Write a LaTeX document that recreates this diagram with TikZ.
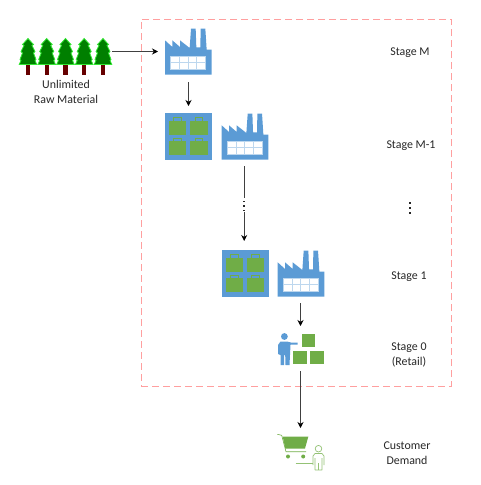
\documentclass[tikz,border=0pt]{standalone}
\usepackage{fontspec}
\setmainfont{Carlito}
\usetikzlibrary{arrows.meta}
\definecolor{iconblue}{HTML}{5B9BD5}
\definecolor{iconlight}{HTML}{BDD7EE}
\definecolor{icongreen}{HTML}{70AD47}
\definecolor{treegreen}{HTML}{007F00}
\definecolor{treeedge}{HTML}{33E833}
\definecolor{trunkred}{HTML}{660000}
\definecolor{framered}{HTML}{FF9F9F}
\definecolor{inktext}{HTML}{262626}
\tikzset{
  x=1pt,y=-1pt,
  arr/.style={draw=black!75,line width=.8pt,-{Stealth[length=6pt,width=6pt,black]}},
  plainline/.style={draw=black!75,line width=.8pt},
  dotmark/.style={fill=black!85},
  iconbox/.style={inner sep=0pt,outer sep=0pt,minimum width=47pt,minimum height=47pt,anchor=north west},
  lbl/.style={font=\fontsize{11.9}{15}\selectfont,text=inktext,align=center,inner sep=0pt},
  factory/.pic={
    \fill[iconblue,scale=1/3] (0,140) -- (0,37) -- (22,57) -- (22,37) -- (45,57) -- (45,37) -- (74,60) -- (78,2) -- (92,2) -- (94,58) -- (106,58) -- (107,2) -- (121,2) -- (125,65) -- (140,65) -- (140,140) -- cycle;
    \filldraw[draw=iconlight,fill=white,line width=.7pt,scale=1/3] (17,85) rectangle (122,123);
    \draw[iconlight,line width=.5pt,scale=1/3] (43,85) -- (43,123) (69,85) -- (69,123) (95,85) -- (95,123) (17,104) -- (122,104);
  },
  bag/.pic={
    \fill[icongreen,scale=1/3] (0,0) rectangle (53,42);
    \draw[icongreen,line width=.9pt,scale=1/3] (15,0) -- (15,-9) -- (38,-9) -- (38,0);
  },
  storage/.pic={
    \fill[iconblue] (0,0) rectangle (47,47);
    \pic at (3.8,7.7) {bag};
    \pic at (25,7.7) {bag};
    \pic at (3.8,28.4) {bag};
    \pic at (25,28.4) {bag};
  },
  tree/.pic={
    \fill[trunkred] (-2.2,26) rectangle (2.2,37);
    \filldraw[draw=treeedge,fill=treegreen,line width=.8pt] (0,0.5) -- (-5.5,6.5) -- (-4,7.5) -- (-7,13.5) -- (-5.5,15) -- (-8,21.5) -- (-7,22.5) -- (-8.8,26.5) -- (8.8,26.5) -- (7,22.5) -- (8,21.5) -- (5.5,15) -- (7,13.5) -- (4,7.5) -- (5.5,6.5) -- cycle;
  },
}
\begin{document}
\begin{tikzpicture}
\useasboundingbox (0,0) rectangle (480,485);
\node[draw=framered,dash pattern=on 7pt off 4pt,line width=1pt,inner sep=0pt,outer sep=0pt,minimum width=310pt,minimum height=367pt,anchor=north west] (frame) at (141,19) {};

% trees
\node[inner sep=0pt,outer sep=0pt,minimum width=93pt,minimum height=37pt,anchor=north west] (trees) at (19,38) {};
\foreach \tx in {28,46.7,65.5,84.2,103} \pic at (\tx,38) {tree};

% icons
\node[iconbox] (f1) at (165,28) {};
\pic at (f1.north west) {factory};
\node[iconbox] (s1) at (165,113) {};
\pic at (s1.north west) {storage};
\node[iconbox] (f2) at (221.7,113) {};
\pic at (f2.north west) {factory};
\node[iconbox] (s2) at (221.7,250) {};
\pic at (s2.north west) {storage};
\node[iconbox] (f3) at (277.7,250) {};
\pic at (f3.north west) {factory};

% retail
\node[inner sep=0pt,outer sep=0pt,minimum width=46pt,minimum height=33pt,anchor=north west] (retail) at (277.5,333) {};
\fill[iconblue] (284.4,336.5) circle (3.4);
\fill[iconblue] (278,345) -- (280.5,341.5) -- (287,341.5) -- (291,342.5) -- (297.7,342.5) -- (297.7,344.7) -- (290.5,344.7) -- (289.5,365) -- (285.5,365) -- (285.2,355) -- (284.2,355) -- (284,365) -- (280.5,365) -- (280.5,355) -- (278,354) -- cycle;
\fill[icongreen] (301.5,333.8) rectangle (315.3,347.3);
\fill[icongreen] (293.3,351) rectangle (306.7,364.3);
\fill[icongreen] (310.3,351) rectangle (323.7,364.3);

% cart
\node[inner sep=0pt,outer sep=0pt,minimum width=50pt,minimum height=36pt,anchor=north west] (cart) at (277,434) {};
\draw[icongreen,line width=.6pt] (277.3,434.3) -- (281.7,435.3) -- (286,451.7) -- (306,451.7);
\fill[icongreen] (282.7,436.7) -- (308.3,436.7) -- (305,448.5) -- (285.3,448.5) -- cycle;
\fill[icongreen] (288,456.5) circle (2);
\fill[icongreen] (303.2,456.5) circle (2);
\draw[icongreen!75,line width=.6pt] (295.5,463.3) -- (313,463.3);
\draw[icongreen!75,line width=.7pt,fill=white] (318.5,448.7) circle (3.3);
\draw[icongreen!75,line width=.7pt] (313,465) -- (313,456) -- (315,453.5) -- (322,453.5) -- (324,456) -- (324,465) (315,470) -- (315,458) (322,470) -- (322,458) (315,470) -- (322,470) (318.5,470) -- (318.5,463);

% labels
\node[lbl] (rm) at (66,91.5) {Unlimited\\Raw Material};
\node[lbl] (sm) at (410,53) {Stage M};
\node[lbl] (sm1) at (411,146) {Stage M-1};
\coordinate (sdots) at (410,207);
\foreach \dy in {-5,0,5} \fill[dotmark] ([yshift=\dy pt,xshift=-.8pt]sdots) rectangle +(1.6,1.6);
\node[lbl] (s1l) at (409,277) {Stage 1};
\node[lbl] (s0l) at (409,354.5) {Stage 0\\(Retail)};
\node[lbl] (cd) at (407,453.5) {Customer\\Demand};

% connectors
\draw[arr] (trees.east |- f1.west) -- ([xshift=-7pt]f1.west);
\draw[arr] ([yshift=-7pt]f1.south) -- ([yshift=7pt]s1.north);
\coordinate (gap) at ([xshift=-1pt]f2.south);
\draw[plainline] ([yshift=-6pt]gap) -- ([yshift=-38pt]gap);
\foreach \dy in {40.5,45,49.5} \fill[dotmark] ([yshift=-\dy pt,xshift=-.8pt]gap) rectangle +(1.6,1.6);
\draw[arr] ([yshift=-52pt]gap) -- ([yshift=9pt]gap |- s2.north);
\draw[arr] ([yshift=-6pt]retail.north |- f3.south) -- ([yshift=7pt]retail.north);
\draw[arr] ([yshift=-5pt]retail.south) -- ([yshift=6pt]retail.south |- cart.north);
\end{tikzpicture}
\end{document}
